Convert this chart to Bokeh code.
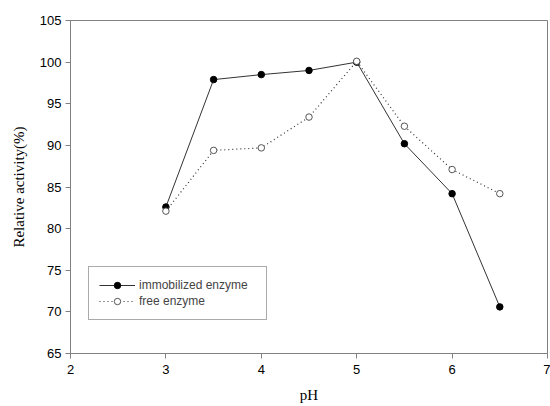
from bokeh.plotting import figure
from bokeh.models import Range1d, Legend, LegendItem, FixedTicker
from bokeh.embed import file_html
from bokeh.resources import INLINE

ph = [3.0, 3.5, 4.0, 4.5, 5.0, 5.5, 6.0, 6.5]
immobilized = [82.6, 97.9, 98.5, 99.0, 100.0, 90.2, 84.2, 70.6]
free = [82.1, 89.4, 89.7, 93.4, 100.1, 92.3, 87.1, 84.2]
x_ticks = [2, 3, 4, 5, 6, 7]
y_ticks = [65, 70, 75, 80, 85, 90, 95, 100, 105]

p = figure(width=550, height=406, output_backend="svg", toolbar_location=None,
           x_range=Range1d(2, 7), y_range=Range1d(65, 105),
           min_border_left=70, min_border_right=3, min_border_top=20, min_border_bottom=53)
p.background_fill_color = "white"
p.border_fill_color = "white"
p.xgrid.visible = False
p.ygrid.visible = False
p.outline_line_color = "#808080"
p.outline_line_width = 1

for ax in (p.xaxis[0], p.yaxis[0]):
    ax.axis_line_color = "#808080"
    ax.major_tick_line_color = "#808080"
    ax.minor_tick_line_color = None
    ax.major_tick_out = 5
    ax.major_tick_in = 0
    ax.major_label_text_font = "Liberation Sans"
    ax.major_label_text_font_size = "13px"
    ax.major_label_text_color = "black"
    ax.axis_label_text_font = "Liberation Serif"
    ax.axis_label_text_font_size = "15px"
    ax.axis_label_text_font_style = "normal"
    ax.axis_label_text_color = "black"

p.xaxis.ticker = FixedTicker(ticks=x_ticks)
p.yaxis.ticker = FixedTicker(ticks=y_ticks)
p.xaxis.axis_label = "pH"
p.yaxis.axis_label = "Relative activity(%)"
p.xaxis.axis_label_standoff = 10
p.yaxis.axis_label_standoff = 10
p.xaxis.major_label_standoff = 6
p.yaxis.major_label_standoff = 4

l1 = p.line(ph, immobilized, line_color="#333333", line_width=1)
c1 = p.scatter(ph, immobilized, size=6.5, fill_color="black", line_color="black")
l2 = p.line(ph, free, line_color="#333333", line_width=1.2, line_dash="1 3")
c2 = p.scatter(ph, free, size=6.5, fill_color="white", line_color="#555555")

legend = Legend(items=[LegendItem(label="immobilized enzyme", renderers=[l1, c1]),
                       LegendItem(label="free enzyme", renderers=[l2, c2])],
                location=(18, 33))
legend.label_text_font = "Liberation Sans"
legend.label_text_font_size = "12px"
legend.border_line_color = "#555555"
legend.border_line_width = 1
legend.background_fill_alpha = 1
legend.glyph_width = 36
legend.glyph_height = 16
legend.label_height = 16
legend.label_width = 117
legend.spacing = 0
legend.padding = 10
legend.margin = 0
legend.label_standoff = 4
p.add_layout(legend, "center")

open("out.html", "w").write(file_html(p, INLINE))
